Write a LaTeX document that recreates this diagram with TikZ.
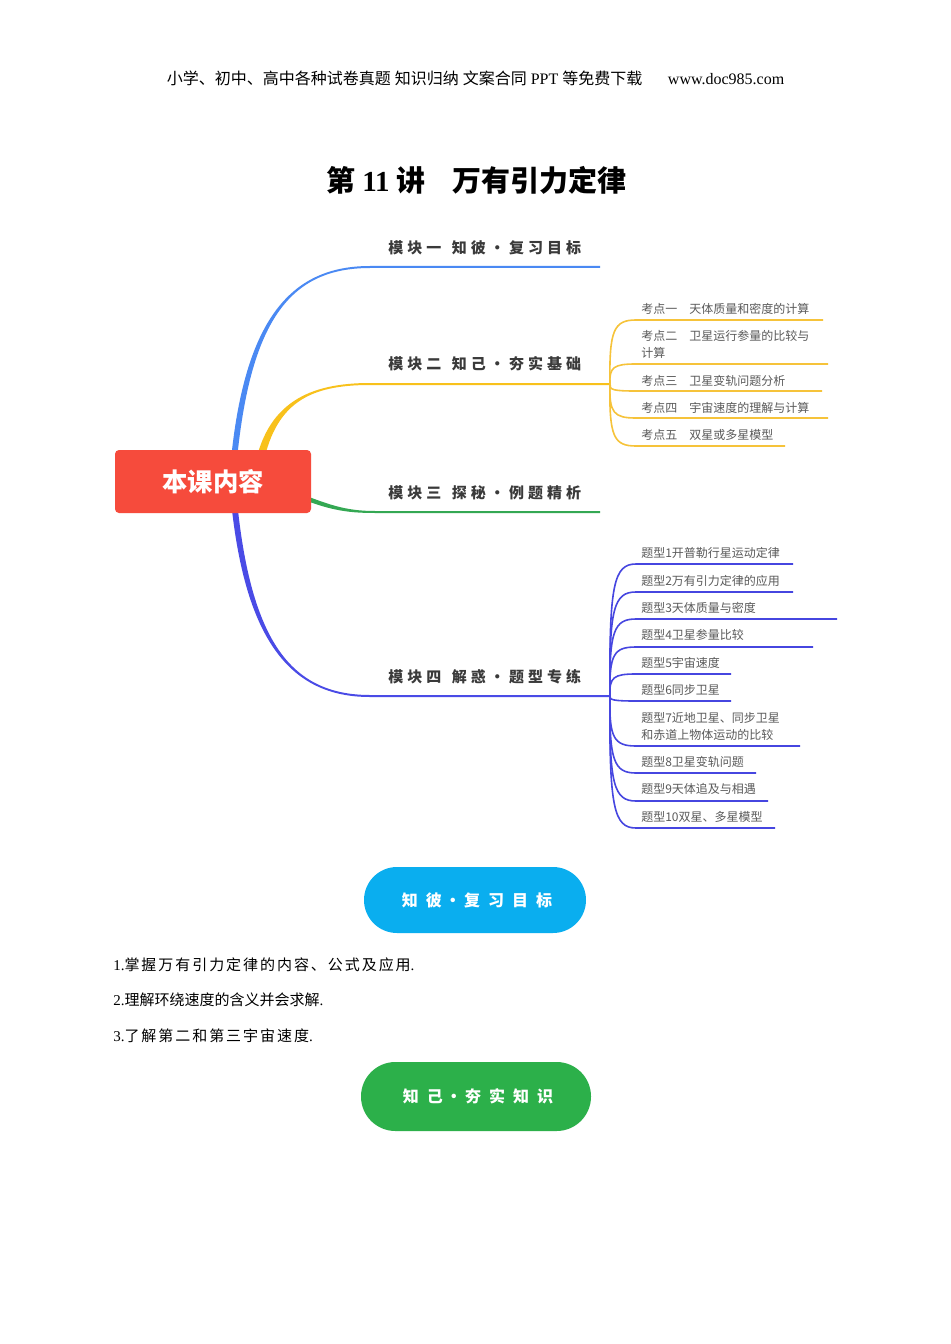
\documentclass[tikz,border=0pt]{standalone}
\usepackage{fontspec}
\setmainfont{Liberation Serif}
\newfontfamily\cjk{Noto Sans CJK SC}
\newfontfamily\handA[LetterSpace=27]{Noto Sans CJK SC}
\newfontfamily\handB[LetterSpace=50]{Noto Sans CJK SC}
\newfontfamily\bodyA[LetterSpace=13]{Noto Sans CJK SC}
\usetikzlibrary{calc}
\definecolor{cblue}{HTML}{4A89F3}
\definecolor{cyellow}{HTML}{F8C11B}
\definecolor{cgreen}{HTML}{34A853}
\definecolor{cindigo}{HTML}{4A4BE6}
\definecolor{cysub}{HTML}{F6C33A}
\definecolor{cisub}{HTML}{4646E0}
\definecolor{cred}{HTML}{F64B3C}
\definecolor{ccyan}{HTML}{0AAEEF}
\definecolor{cgbtn}{HTML}{2CB04A}
\definecolor{textgray}{HTML}{5A5A5A}
\definecolor{labelgray}{HTML}{3A3A3A}
\newcommand\mmtaper[8]{%
  \fill[#1] ($(#2)-(#7)$) .. controls ($(#3)-(#7)$) and ($(#4)-(#8)$) .. ($(#5)-(#8)$) -- ($(#6)-(#8)$) -- ($(#6)+(#8)$) -- ($(#5)+(#8)$) .. controls ($(#4)+(#8)$) and ($(#3)+(#7)$) .. ($(#2)+(#7)$) -- cycle;}
\tikzset{
  item/.style={anchor=west, inner sep=0pt, align=left, text=textgray, font=\cjk\fontsize{9pt}{12.75pt}\selectfont},
  modlabel/.style={anchor=west, inner sep=0pt, text=labelgray, font=\handA\bfseries\fontsize{11.25pt}{13pt}\selectfont},
  ysub/.style={draw=cysub, line width=1.2pt},
  isub/.style={draw=cisub, line width=1.2pt},
  pill/.style={text=white, inner sep=0pt, font=\handB\bfseries\fontsize{12pt}{14pt}\selectfont},
  body/.style={anchor=west, inner sep=0pt, font=\fontsize{11.25pt}{14pt}\selectfont},
}
\begin{document}
\begin{tikzpicture}[x=0.75pt,y=-0.75pt]
\useasboundingbox[fill=white] (0,0) rectangle (950,1344);

% header and title
\node[inner sep=0pt, font=\fontsize{12pt}{14pt}\selectfont] (hdr) at (475.5,78)
  {{\cjk 小学、初中、高中各种试卷真题}\ {\cjk 知识归纳}\ {\cjk 文案合同}\ PPT\ {\cjk 等免费下载}\hspace{1.6em}www.doc985.com};
\node[inner sep=0pt, font=\fontsize{21.75pt}{24pt}\selectfont] (title) at (476,180)
  {{\cjk\bfseries 第}\ {\bfseries 11}\ {\cjk\bfseries 讲\hspace{0.9em}万有引力定律}};

% main branch coordinates
\coordinate (r1) at (233,470); \coordinate (r1a) at (246,320); \coordinate (r1b) at (290,267); \coordinate (j1) at (370,267); \coordinate (e1) at (600,267);
\coordinate (r2) at (258,470); \coordinate (r2a) at (270,402); \coordinate (r2b) at (310,384); \coordinate (j2) at (370,384); \coordinate (ysplit) at (610,384);
\coordinate (r3) at (295,494); \coordinate (r3a) at (328,507); \coordinate (r3b) at (345,512); \coordinate (j3) at (375,512); \coordinate (e3) at (600,512);
\coordinate (r4) at (233,490); \coordinate (r4a) at (246,640); \coordinate (r4b) at (290,696); \coordinate (j4) at (370,696); \coordinate (isplit) at (610,696);

\mmtaper{cblue}{r1}{r1a}{r1b}{j1}{e1}{3,0}{0,1}
\mmtaper{cyellow}{r2}{r2a}{r2b}{j2}{ysplit}{4,0}{0,1}
\mmtaper{cgreen}{r3}{r3a}{r3b}{j3}{e3}{0,2.5}{0,1}
\mmtaper{cindigo}{r4}{r4a}{r4b}{j4}{isplit}{3,0}{0,-1}

% central node
\node[fill=cred, rounded corners=3pt, minimum width=147pt, minimum height=47.25pt, inner sep=0pt,
      text=white, font=\cjk\bfseries\fontsize{19pt}{21pt}\selectfont] (root) at (213,481.5) {本课内容};

% module labels
\node[modlabel] (m1) at (388,248) {模块一\hspace{0.7em}知彼·复习目标};
\node[modlabel] (m2) at (388,364) {模块二\hspace{0.7em}知己·夯实基础};
\node[modlabel] (m3) at (388,493) {模块三\hspace{0.7em}探秘·例题精析};
\node[modlabel] (m4) at (388,677) {模块四\hspace{0.7em}解惑·题型专练};

% module two items
\node[item] (k1) at (641,309) {考点一\hspace{1em}天体质量和密度的计算};
\node[item] (k2) at (641,344.5) {考点二\hspace{1em}卫星运行参量的比较与\\计算};
\node[item] (k3) at (641,381) {考点三\hspace{1em}卫星变轨问题分析};
\node[item] (k4) at (641,408) {考点四\hspace{1em}宇宙速度的理解与计算};
\node[item] (k5) at (641,435) {考点五\hspace{1em}双星或多星模型};
\coordinate (k1s) at (636,320); \coordinate (k1e) at (823,320);
\coordinate (k2s) at (636,364); \coordinate (k2e) at (828,364);
\coordinate (k3s) at (636,391); \coordinate (k3e) at (822,391);
\coordinate (k4s) at (636,418); \coordinate (k4e) at (828,418);
\coordinate (k5s) at (636,446); \coordinate (k5e) at (785,446);
\draw[ysub] (ysplit) .. controls (609,330) and (614,320) .. (k1s) -- (k1e);
\draw[ysub] (ysplit) .. controls (609,367) and (614,364) .. (k2s) -- (k2e);
\draw[ysub] (ysplit) .. controls (609,390) and (614,391) .. (k3s) -- (k3e);
\draw[ysub] (ysplit) .. controls (609,413) and (614,418) .. (k4s) -- (k4e);
\draw[ysub] (ysplit) .. controls (609,437) and (614,446) .. (k5s) -- (k5e);

% module four items
\node[item] (t1) at (641,553) {题型1开普勒行星运动定律};
\node[item] (t2) at (641,581) {题型2万有引力定律的应用};
\node[item] (t3) at (641,608) {题型3天体质量与密度};
\node[item] (t4) at (641,635) {题型4卫星参量比较};
\node[item] (t5) at (641,663) {题型5宇宙速度};
\node[item] (t6) at (641,690) {题型6同步卫星};
\node[item] (t7) at (641,726.5) {题型7近地卫星、同步卫星\\和赤道上物体运动的比较};
\node[item] (t8) at (641,762) {题型8卫星变轨问题};
\node[item] (t9) at (641,789) {题型9天体追及与相遇};
\node[item] (t10) at (641,817) {题型10双星、多星模型};
\coordinate (t1s) at (636,564); \coordinate (t1e) at (793,564);
\coordinate (t2s) at (636,592); \coordinate (t2e) at (793,592);
\coordinate (t3s) at (636,619); \coordinate (t3e) at (837,619);
\coordinate (t4s) at (636,647); \coordinate (t4e) at (813,647);
\coordinate (t5s) at (636,674); \coordinate (t5e) at (731,674);
\coordinate (t6s) at (636,701); \coordinate (t6e) at (731,701);
\coordinate (t7s) at (636,746); \coordinate (t7e) at (800,746);
\coordinate (t8s) at (636,773); \coordinate (t8e) at (756,773);
\coordinate (t9s) at (636,801); \coordinate (t9e) at (768,801);
\coordinate (t10s) at (636,828); \coordinate (t10e) at (775,828);
\draw[isub] (isplit) .. controls (609,584) and (614,564) .. (t1s) -- (t1e);
\draw[isub] (isplit) .. controls (609,608) and (614,592) .. (t2s) -- (t2e);
\draw[isub] (isplit) .. controls (609,631) and (614,619) .. (t3s) -- (t3e);
\draw[isub] (isplit) .. controls (609,654) and (614,647) .. (t4s) -- (t4e);
\draw[isub] (isplit) .. controls (609,677) and (614,674) .. (t5s) -- (t5e);
\draw[isub] (isplit) .. controls (609,700) and (614,701) .. (t6s) -- (t6e);
\draw[isub] (isplit) .. controls (609,738) and (614,746) .. (t7s) -- (t7e);
\draw[isub] (isplit) .. controls (609,761) and (614,773) .. (t8s) -- (t8e);
\draw[isub] (isplit) .. controls (609,785) and (614,801) .. (t9s) -- (t9e);
\draw[isub] (isplit) .. controls (609,808) and (614,828) .. (t10s) -- (t10e);

% buttons
\node[pill, fill=ccyan, rounded corners=24.75pt, minimum width=166.5pt, minimum height=49.5pt] (btn1) at (475,900)
  {\hspace{0.25em}知彼\hspace{0.2em}·\hspace{0.2em}复习目标};
\node[pill, fill=cgbtn, rounded corners=25.8pt, minimum width=172.5pt, minimum height=51.75pt] (btn2) at (476,1096.5)
  {\hspace{0.25em}知己\hspace{0.2em}·\hspace{0.2em}夯实知识};

% body text
\node[body] (l1) at (113,965) {1.{\bodyA 掌握万有引力定律的内容、公式及应用}.};
\node[body] (l2) at (113,1000) {2.{\cjk 理解环绕速度的含义并会求解}.};
\node[body] (l3) at (113,1036) {3.{\bodyA 了解第二和第三宇宙速度}.};
\end{tikzpicture}
\end{document}
